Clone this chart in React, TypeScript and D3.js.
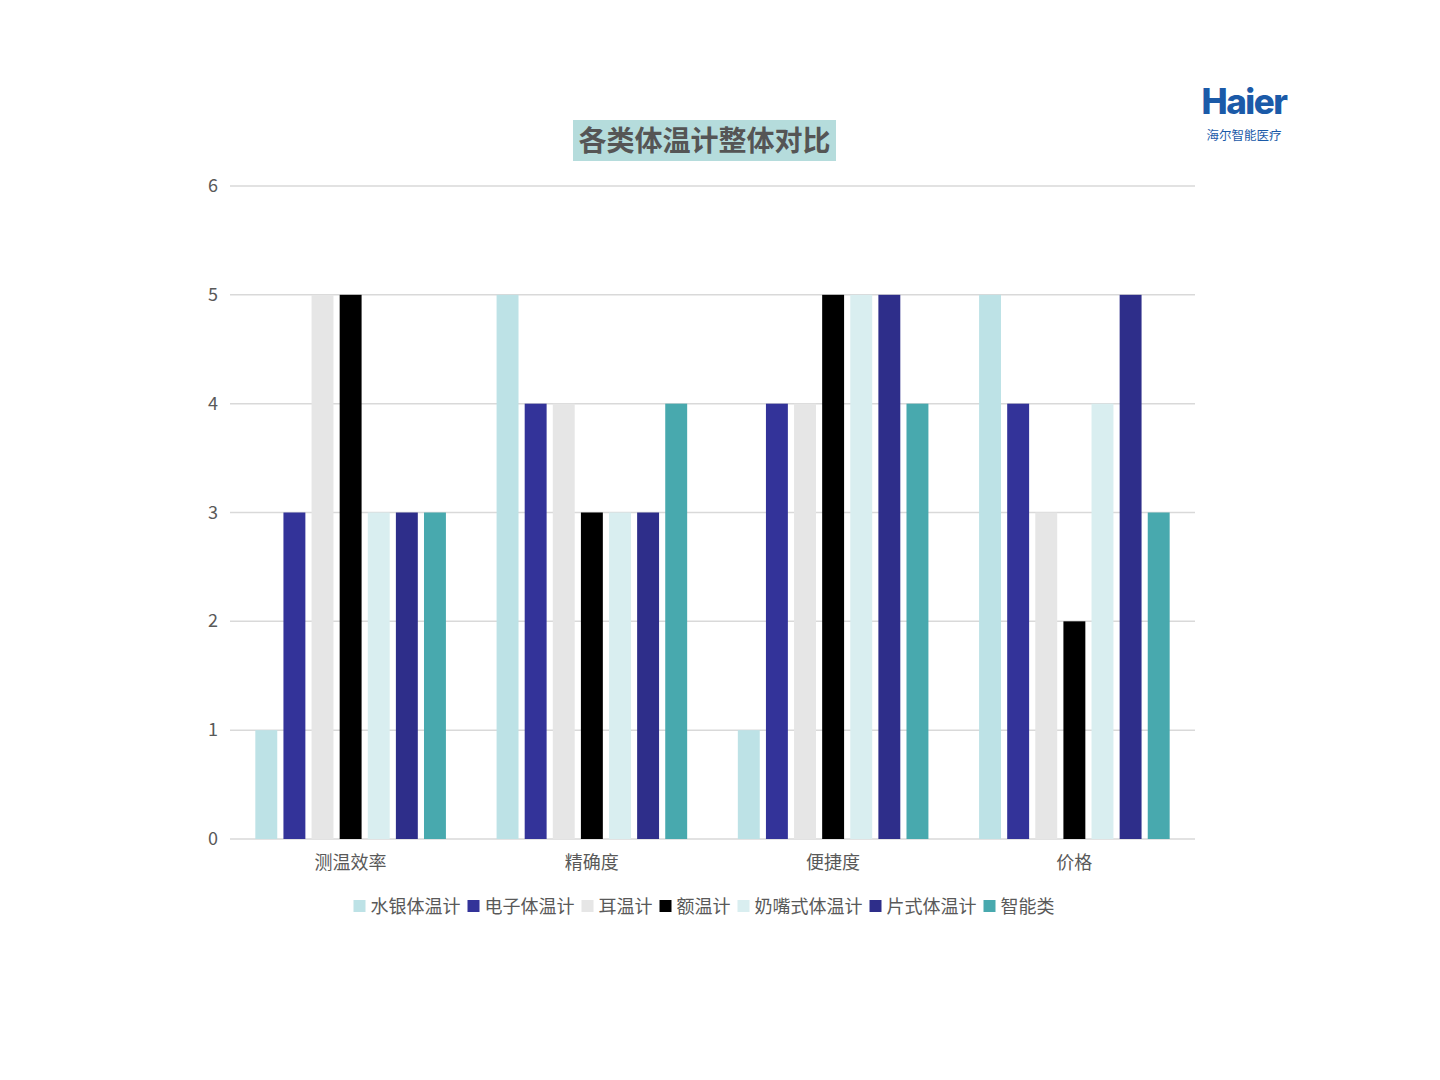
import React from 'react'
import * as d3 from 'd3'

const categories = ['测温效率', '精确度', '便捷度', '价格']
const seriesNames = ['水银体温计', '电子体温计', '耳温计', '额温计', '奶嘴式体温计', '片式体温计', '智能类']
const seriesColors = ['#bde2e6', '#333399', '#e6e6e6', '#000000', '#d9eef0', '#2e2e8a', '#48a9ae']
// values per series, in category order
const mercury = [1, 5, 1, 5]
const electronic = [3, 4, 4, 4]
const ear = [5, 4, 4, 3]
const forehead = [5, 3, 5, 2]
const pacifier = [3, 3, 5, 4]
const patch = [3, 3, 5, 5]
const smart = [3, 4, 4, 3]
const seriesValues = [mercury, electronic, ear, forehead, pacifier, patch, smart]
const yTicks = [0, 1, 2, 3, 4, 5, 6]

const font = '"Microsoft YaHei", "Noto Sans CJK SC", sans-serif'

export default function App() {
  const width = 1440
  const height = 1080
  const left = 230
  const right = 1195
  const top = 186
  const bottom = 839

  const y = d3.scaleLinear().domain([0, 6]).range([bottom, top])
  const x0 = d3.scaleBand().domain(categories).range([left, right]).paddingInner(0.21).paddingOuter(0.105)
  const x1 = d3.scaleBand().domain(seriesNames).range([0, x0.bandwidth()]).paddingInner(0.22)

  // legend layout
  const legendY = 906
  const sq = 12
  const fs = 18
  const legendWidths = seriesNames.map(n => sq + 5 + n.length * fs + 7)
  const totalLegend = d3.sum(legendWidths) - 7
  let lx = 704 - totalLegend / 2

  return (
    <svg width={width} height={height} style={{ display: 'block', margin: -8 }} fontFamily={font}>
      <rect width={width} height={height} fill="#ffffff" />
      {/* logo */}
      <text x={1244} y={114} textAnchor="middle" fontFamily="Inter, 'DejaVu Sans', sans-serif" fontWeight={800} fontSize={35} fill="#1b5aa8" letterSpacing={-1.5}>Haier</text>
      <text x={1244} y={140} textAnchor="middle" fontSize={12.5} fill="#1b5aa8">海尔智能医疗</text>
      {/* title */}
      <rect x={573} y={120} width={263} height={41} fill="#b5dcdc" />
      <text x={704.5} y={151} textAnchor="middle" fontSize={28} fontWeight={700} fill="#555555">各类体温计整体对比</text>
      {/* grid */}
      {yTicks.map(t => (
        <g key={t}>
          <line x1={left} x2={right} y1={y(t)} y2={y(t)} stroke="#d9d9d9" strokeWidth={1.5} />
          <text x={218} y={y(t) + 6} textAnchor="end" fontSize={18} fill="#595959">{t}</text>
        </g>
      ))}
      {/* bars */}
      {categories.map((c, ci) => (
        <g key={c} transform={`translate(${x0(c)},0)`}>
          {seriesNames.map((s, si) => (
            <rect key={s} x={x1(s)} y={y(seriesValues[si][ci])} width={x1.bandwidth()}
              height={bottom - y(seriesValues[si][ci])} fill={seriesColors[si]} />
          ))}
          <text x={x0.bandwidth() / 2} y={869} textAnchor="middle" fontSize={18} fill="#595959">{c}</text>
        </g>
      ))}
      {/* legend */}
      {seriesNames.map((s, i) => {
        const gx = lx
        lx += legendWidths[i]
        return (
          <g key={s} transform={`translate(${gx},${legendY})`}>
            <rect x={0} y={-6} width={sq} height={sq} fill={seriesColors[i]} />
            <text x={sq + 5} y={6.5} fontSize={fs} fill="#595959">{s}</text>
          </g>
        )
      })}
    </svg>
  )
}
